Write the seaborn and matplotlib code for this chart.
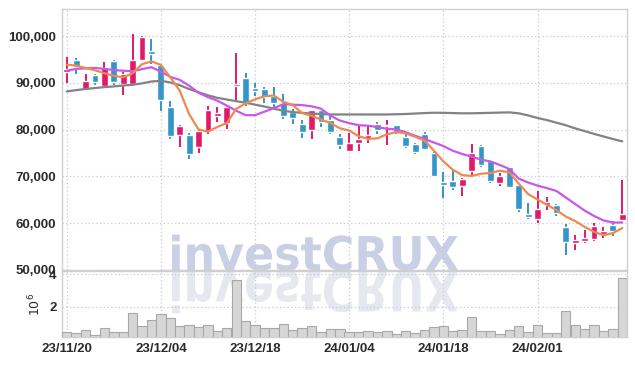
import numpy as np
import pandas as pd
import seaborn as sns
import matplotlib.pyplot as plt
from matplotlib.textpath import TextPath
from matplotlib.patches import PathPatch
from matplotlib.font_manager import FontProperties
from matplotlib.transforms import Affine2D

# trading days (KRX holidays removed)
holidays = ["2023-12-25", "2023-12-29", "2024-01-01", "2024-02-09", "2024-02-12"]
dates = pd.bdate_range("2023-11-20", "2024-02-16", freq="C", holidays=holidays)

opens = [92300, 94900, 88500, 91700, 89300, 94700, 89800, 89800, 95000, 96900,
         93900, 84900, 78800, 78900, 76200, 79800, 82900, 81400, 89300, 91100,
         88900, 88700, 87100, 85700, 83800, 81200, 79900, 84100, 82100, 78500,
         75400, 77100, 78000, 81200, 80700, 81000, 78500, 77000, 79100, 75100,
         68800, 69100, 68000, 71100, 76600, 73200, 68600, 72000, 68100, 62000,
         61000, 63800, 64000, 59300, 55800, 56300, 56700, 57600, 59700, 60600]
closes = [93000, 93500, 90400, 90300, 93200, 90200, 91800, 94900, 99900, 96200,
          86400, 78600, 80700, 74700, 79800, 84100, 83600, 84900, 89800, 85800,
          88300, 86900, 85800, 83000, 82400, 79600, 84100, 81700, 79400, 76700,
          77200, 78000, 78900, 79900, 81000, 79600, 76600, 75300, 75900, 70100,
          68200, 67700, 69500, 75000, 72500, 69000, 70200, 67700, 63000, 61300,
          63100, 64600, 62100, 56000, 56500, 56900, 59300, 58400, 58300, 61900]
highs = [95600, 95400, 91900, 91800, 94500, 94800, 92300, 100400, 100000, 99400,
         94000, 86100, 80900, 79200, 80000, 85100, 84800, 85300, 96500, 92200,
         89900, 89200, 89200, 87700, 84400, 82100, 84200, 84200, 83100, 79100,
         79200, 80900, 81000, 81600, 82100, 81100, 79000, 77100, 79400, 75300,
         70900, 71400, 69600, 76900, 76700, 73400, 70700, 72100, 68200, 64300,
         66900, 65700, 64100, 59900, 57500, 58600, 60000, 59300, 60400, 69300]
lows = [90000, 91800, 88200, 89500, 89100, 89500, 87400, 89700, 94600, 94100,
        84100, 78100, 76200, 73800, 75100, 79100, 81600, 80200, 86400, 85000,
        87300, 85800, 84900, 82300, 81200, 78200, 78000, 80500, 79100, 75900,
        75300, 75400, 77200, 79100, 76700, 79100, 76000, 74800, 75700, 69900,
        65400, 67200, 65900, 70300, 72100, 68700, 67900, 67500, 62400, 60900,
        60000, 62900, 61600, 53300, 54200, 55800, 56300, 56900, 57200, 60500]
volumes = [0.45, 0.39, 0.58, 0.27, 0.70, 0.45, 0.45, 1.63, 0.84, 1.19,
           1.57, 1.32, 0.82, 0.88, 0.76, 0.88, 0.49, 0.70, 3.63, 1.11,
           0.88, 0.70, 0.70, 0.95, 0.58, 0.70, 0.82, 0.45, 0.64, 0.64,
           0.45, 0.45, 0.51, 0.45, 0.51, 0.35, 0.51, 0.39, 0.58, 0.76,
           0.84, 0.51, 0.58, 1.38, 0.51, 0.51, 0.35, 0.58, 0.82, 0.45,
           0.88, 0.39, 0.39, 1.75, 0.88, 0.64, 0.88, 0.51, 0.64, 3.80]
# first MA5 points need closes from before the window
ma5_lead = [93900, 93700, 93200, 92700]
ma20 = [92600, 93000, 93100, 93200, 93000, 92750, 92600, 92500, 92950, 93350,
        92400, 91300, 90650, 89400, 87900, 86950, 86200, 85150, 84050, 83100,
        83100, 83850, 84600, 85450, 85350, 85250, 85000, 84500, 83000, 81950,
        81400, 80950, 80850, 80550, 80200, 80050, 79450, 78700, 78000, 77250,
        76500, 75500, 74800, 74250, 73600, 73200, 72450, 71600, 69550, 68700,
        68050, 67500, 66900, 65500, 64100, 62700, 61550, 60600, 60150, 60150]
ma60 = [88180, 88450, 88700, 88900, 89100, 89250, 89450, 89600, 89900, 90300,
        90450, 90100, 89500, 88700, 88000, 87350, 86800, 86450, 86100, 85750,
        85350, 84950, 84500, 84050, 83750, 83600, 83450, 83350, 83250, 83250,
        83250, 83250, 83250, 83250, 83250, 83300, 83350, 83450, 83550, 83620,
        83600, 83550, 83500, 83500, 83550, 83600, 83650, 83700, 83500, 83050,
        82500, 82050, 81500, 80950, 80280, 79700, 79100, 78550, 78000, 77500]

df = pd.DataFrame({"date": dates, "open": opens, "high": highs, "low": lows,
                   "close": closes, "volume": np.array(volumes) * 1e6,
                   "ma20": ma20, "ma60": ma60})
df["idx"] = np.arange(len(df))
df["ma5"] = df["close"].rolling(5).mean()
df.loc[:3, "ma5"] = ma5_lead

UP, DOWN = "#e2196b", "#3395c9"
GRID = "#c3c9dc"
TXT = "#2b2b2b"

sns.set_style("white")
plt.rcParams["font.family"] = ["Liberation Sans", "DejaVu Sans"]

fig = plt.figure(figsize=(6.35, 3.66), dpi=100)
ax = fig.add_axes([62 / 635, 1 - 270 / 366, 565 / 635, 261 / 366])
axv = fig.add_axes([62 / 635, 1 - 337 / 366, 565 / 635, 66 / 366], sharex=ax)

# watermark with reflection, drawn behind the axes
fp = FontProperties(family="DejaVu Sans", weight="bold")
tp = TextPath((0, 0), "investCRUX", size=100, prop=fp)
bb = tp.get_extents()
s = 286 / bb.width
W, H = 635, 366
top_tr = Affine2D().scale(s / W, s * 1.05 / H).translate((172 - bb.x0 * s) / W, 96 / H)
fig.patches.append(PathPatch(tp, transform=top_tr + fig.transFigure,
                             facecolor="#c9d0e6", edgecolor="none", zorder=-5))
ref_tr = Affine2D().scale(s / W, -s * 1.25 / H).translate((172 - bb.x0 * s) / W, 95 / H)
fig.patches.append(PathPatch(tp, transform=ref_tr + fig.transFigure,
                             facecolor="#e6e8f0", edgecolor="none", zorder=-5))

for a in (ax, axv):
    a.set_facecolor("none")

# candles
colors = np.where(df["close"] >= df["open"], UP, DOWN)
body_lo = df[["open", "close"]].min(axis=1)
body_h = (df["close"] - df["open"]).abs().clip(lower=250)
ax.vlines(df["idx"], df["low"], df["high"], colors=colors, linewidth=1.4, zorder=3)
ax.bar(df["idx"], body_h, bottom=body_lo, width=0.72, color=colors, zorder=3)

sns.lineplot(data=df, x="idx", y="ma60", color="#838383", linewidth=1.6, ax=ax, zorder=4)
sns.lineplot(data=df, x="idx", y="ma20", color="#c958ea", linewidth=1.6, ax=ax, zorder=4)
sns.lineplot(data=df, x="idx", y="ma5", color="#ef8a4e", linewidth=1.6, ax=ax, zorder=4)

ax.set_ylim(50000, 105800)
ax.set_yticks(range(50000, 100001, 10000))
ax.yaxis.set_major_formatter(plt.FuncFormatter(lambda v, p: f"{int(v):,}"))
ax.set_xlim(-0.5, len(df) - 0.5)
ax.set_xlabel("")
ax.set_ylabel("")

# volume
axv.bar(df["idx"], df["volume"], width=1.0, color="#d6d6d6", edgecolor="#a8a8a8",
        linewidth=0.8, zorder=3)
axv.set_ylim(0.15e6, 4.2e6)
axv.set_yticks([2e6, 4e6])
axv.set_yticklabels(["2", "4"])
axv.set_ylabel(r"$10^6$", color=TXT, fontsize=9, labelpad=4)

ticks = df["idx"][::10]
axv.set_xticks(ticks)
axv.set_xticklabels(df["date"][::10].dt.strftime("%y/%m/%d"))
plt.setp(ax.get_xticklabels(), visible=False)

for a in (ax, axv):
    a.grid(True, color=GRID, linestyle=(0, (1, 2)), linewidth=0.9)
    a.tick_params(length=0, labelsize=9.5, colors=TXT, pad=4)
    for sp in a.spines.values():
        sp.set_color("#cfcfcf")
        sp.set_linewidth(1.0)
    for lab in a.get_xticklabels() + a.get_yticklabels():
        lab.set_fontweight("bold")

fig.savefig("out.png", dpi=100, facecolor="white")
